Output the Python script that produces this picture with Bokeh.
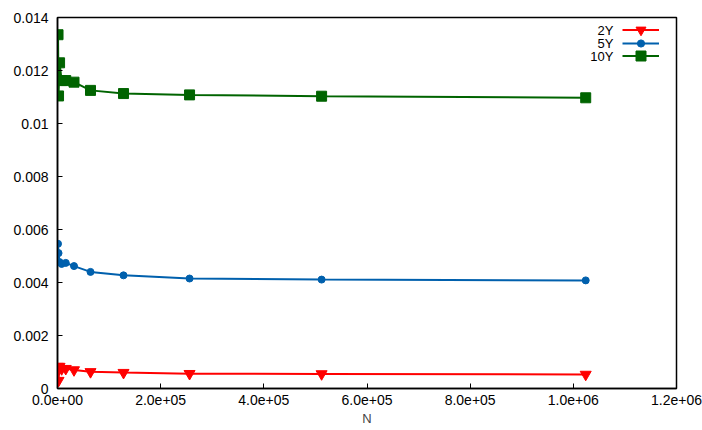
from bokeh.plotting import figure
from bokeh.models import Range1d, FixedTicker, CustomJSTickFormatter, Legend, LegendItem, Label
from bokeh.core.properties import value
from bokeh.embed import file_html
from bokeh.resources import INLINE

# ---- data ----
N = [1000, 2000, 4000, 8000, 16000, 32000, 64000, 128000, 256000, 512000, 1024000]
y2 = [0.00083, 0.00030, 0.00083, 0.00074, 0.00075, 0.00070, 0.00063, 0.00060, 0.00056, 0.00055, 0.00053]
y5 = [0.00546, 0.00511, 0.00477, 0.00470, 0.00474, 0.00462, 0.00440, 0.00427, 0.00415, 0.00411, 0.00408]
y10 = [0.01335, 0.01104, 0.01229, 0.01162, 0.01162, 0.01156, 0.01125, 0.01113, 0.01108, 0.01103, 0.01097]
series_names = ["2Y", "5Y", "10Y"]
x_ticks = [0, 200000, 400000, 600000, 800000, 1000000, 1200000]
y_ticks = [0, 0.002, 0.004, 0.006, 0.008, 0.010, 0.012, 0.014]

FONT = "Liberation Sans"
RED, BLUE, GREEN = "#ff0000", "#0060ad", "#006400"
FH = 371

p = figure(frame_width=619, frame_height=FH, output_backend="svg", toolbar_location=None,
           x_range=Range1d(0, 1200000), y_range=Range1d(0, 0.014),
           min_border_left=57, min_border_right=26, min_border_top=17, min_border_bottom=42)

p.xgrid.visible = False
p.ygrid.visible = False
p.outline_line_color = "black"
p.outline_line_width = 1.5
p.background_fill_color = "white"
p.border_fill_color = "white"

p.xaxis.ticker = FixedTicker(ticks=x_ticks)
p.yaxis.ticker = FixedTicker(ticks=y_ticks)
p.xaxis.formatter = CustomJSTickFormatter(code="""
if (tick == 0) return "0.0e+00";
var e = Math.floor(Math.log10(Math.abs(tick)) + 1e-9);
var m = tick / Math.pow(10, e);
var ae = Math.abs(e);
return m.toFixed(1) + "e" + (e < 0 ? "-" : "+") + (ae < 10 ? "0" : "") + ae;
""")
p.yaxis.formatter = CustomJSTickFormatter(code="return parseFloat(tick.toFixed(6)).toString();")

for ax in (p.xaxis, p.yaxis):
    ax.major_tick_in = 5
    ax.major_tick_out = 0
    ax.minor_tick_in = 0
    ax.minor_tick_out = 0
    ax.axis_line_color = "black"
    ax.axis_line_width = 1.5
    ax.major_tick_line_color = "black"
    ax.major_label_text_font = FONT
    ax.major_label_text_font_size = "14px"
    ax.major_label_text_color = "black"
p.yaxis.major_label_standoff = 9
p.xaxis.major_label_standoff = 6
p.xaxis.axis_label = "N"
p.xaxis.axis_label_text_font = FONT
p.xaxis.axis_label_text_font_size = "13px"
p.xaxis.axis_label_text_font_style = "normal"
p.xaxis.axis_label_standoff = 3

for i, (ys, col, mk, size, name) in enumerate([(y2, RED, "inverted_triangle", 11, series_names[0]),
                                               (y5, BLUE, "circle", 7, series_names[1]),
                                               (y10, GREEN, "square", 10, series_names[2])]):
    rl = p.line(N, ys, line_color=col, line_width=2)
    rm = p.scatter(N, ys, marker=mk, size=size, fill_color=col, line_color=col)
    gh = 25 if mk != "circle" else 18
    center = 12.5 + 13 * i
    leg = Legend(items=[LegendItem(label=value(" "), renderers=[rl, rm])],
                 location=(565, FH - center - gh / 2), margin=0, padding=0, spacing=0,
                 glyph_width=37, glyph_height=gh, label_width=17, label_height=gh,
                 label_standoff=0, label_text_font_size="1px",
                 border_line_color=None, background_fill_alpha=0)
    p.add_layout(leg)
    p.add_layout(Label(x=556, y=FH - center, x_units="screen", y_units="screen",
                       text=name, text_align="right", text_baseline="middle",
                       text_font=FONT, text_font_size="13px", text_color="black"))

open("out.html", "w").write(file_html(p, INLINE))
